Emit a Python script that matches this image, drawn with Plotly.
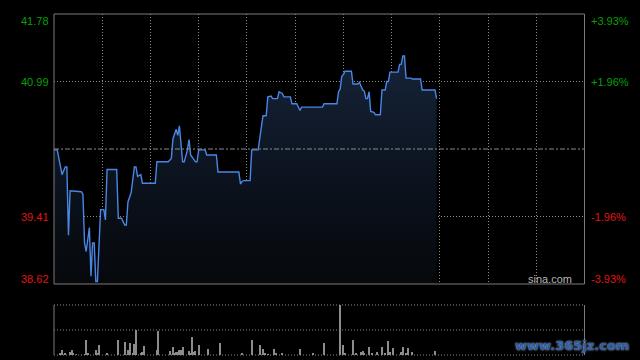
import plotly.graph_objects as go

# ---- data ----
minutes = [0, 2, 5, 6, 7, 8, 9, 10, 17, 18, 19, 20, 22, 23, 24, 25, 26, 27, 29, 31, 32, 33, 38, 39,
           40, 42, 44, 45, 46, 48, 50, 51, 52, 54, 55, 63, 64, 71, 73, 74, 76, 77, 78, 80, 81, 83,
           84, 85, 88, 89, 90, 94, 95, 101, 102, 115, 116, 117, 118, 122, 123, 127, 130, 132, 133,
           135, 136, 139, 140, 142, 143, 147, 148, 151, 153, 154, 167, 168, 176, 177, 178, 179, 180,
           181, 185, 186, 189, 190, 192, 193, 194, 195, 196, 197, 199, 200, 203, 204, 206, 207, 208,
           209, 214, 215, 216, 217, 218, 219, 222, 223, 228, 229, 237, 238]
prices = [40.19, 40.19, 39.90, 39.94, 39.99, 39.99, 39.19, 39.71, 39.70, 39.67, 39.10, 39.00, 39.28,
          38.71, 39.10, 39.10, 38.65, 38.65, 39.49, 39.49, 39.37, 39.96, 39.96, 39.96, 39.39, 39.39,
          39.31, 39.31, 39.58, 39.69, 39.99, 39.99, 39.88, 39.90, 39.80, 39.80, 40.05, 40.05, 40.09,
          40.32, 40.43, 40.36, 40.47, 40.05, 40.05, 40.19, 40.31, 40.13, 40.05, 40.05, 40.19, 40.19,
          40.13, 40.13, 39.93, 39.93, 39.79, 39.82, 39.83, 39.83, 40.19, 40.19, 40.59, 40.59, 40.81,
          40.82, 40.79, 40.79, 40.87, 40.85, 40.81, 40.81, 40.73, 40.73, 40.65, 40.69, 40.69, 40.73,
          40.73, 40.87, 40.90, 41.05, 41.07, 41.11, 41.11, 40.96, 40.96, 40.98, 40.89, 40.88, 40.79,
          40.79, 40.87, 40.64, 40.63, 40.60, 40.60, 40.89, 40.89, 40.99, 40.99, 41.10, 41.10, 41.19,
          41.19, 41.29, 41.29, 41.03, 41.03, 41.02, 41.02, 40.89, 40.89, 40.79]

vol_minutes = [4, 5, 7, 10, 11, 12, 14, 19, 20, 21, 26, 27, 28, 33, 40, 44, 46, 47, 49, 50,
               51, 54, 55, 56, 64, 65, 72, 74, 75, 76, 77, 78, 79, 80, 84, 85, 86, 87, 88, 90,
               96, 103, 117, 123, 128, 130, 131, 133, 137, 138, 142, 153, 161, 168, 178, 180, 181, 186, 188, 191,
               192, 193, 196, 198, 201, 204, 206, 208, 209, 211, 216, 217, 219, 220, 223, 237]
volumes = [4.7, 10, 4.7, 6.7, 10, 3.4, 2, 2, 30, 3.4, 10.7, 4.7, 20.8, 4.7, 30, 26.8, 10, 24.2, 4.7, 22.8,
           50.3, 4.7, 6.7, 18.8, 10, 48.3, 8.7, 16.8, 4.7, 6.7, 6.7, 10.7, 10.7, 16.8, 8.7, 4.7, 36.9, 6.7, 8.7, 20.8,
           12.8, 24.8, 3.4, 30, 20.8, 12.8, 3.4, 2, 12.8, 3.4, 4.7, 12.8, 3.4, 23.5, 100, 20.8, 3.4, 30, 3.4, 6.7,
           8.7, 4.7, 16.8, 3.4, 6.7, 16.8, 4.7, 28.9, 6.7, 14.8, 6.7, 16.8, 4.7, 14.8, 6.7, 8.7]

prev_close = 40.20
y_min, y_max = 38.62, 41.78
left_labels = ["41.78", "40.99", "39.41", "38.62"]
left_vals = [41.78, 40.99, 39.41, 38.62]
right_labels = ["+3.93%", "+1.96%", "-1.96%", "-3.93%"]
grid_prices = [40.99, 39.41]

W, H = 640, 360
X0, X1 = 54, 584.5
MAIN_TOP, MAIN_BOT = 14, 284
VOL_TOP, VOL_BOT = 305, 355


def px_x(p):
    return p / W


def px_y(p):
    return 1 - p / H


GREEN = "#05a005"
RED = "#e01414"
GRID = "#8a8a8a"
BORDER = "#7a7a7a"

fig = go.Figure()

fig.add_trace(go.Scatter(
    x=minutes, y=prices, mode="lines",
    line=dict(color="#4a86e4", width=1.4),
    fill="tozeroy",
    fillgradient=dict(type="vertical", start=38.62, stop=41.3,
                      colorscale=[[0, "#06080b"], [0.5, "#0c1420"], [1, "#162339"]]),
    hoverinfo="skip", xaxis="x", yaxis="y"))

fig.add_trace(go.Bar(
    x=vol_minutes, y=volumes, width=0.62,
    marker=dict(color="#8c8c8c", line=dict(width=0)),
    hoverinfo="skip", xaxis="x2", yaxis="y2"))

fig.update_layout(
    width=W, height=H, margin=dict(l=0, r=0, t=0, b=0),
    paper_bgcolor="#000000", plot_bgcolor="#000000",
    showlegend=False, bargap=0,
    xaxis=dict(domain=[px_x(X0), px_x(X1)], range=[0, 330], showticklabels=False,
               showline=False, zeroline=False, tick0=0, dtick=30,
               showgrid=True, gridcolor=GRID, griddash="1px,2px", gridwidth=1, fixedrange=True),
    yaxis=dict(domain=[px_y(MAIN_BOT), px_y(MAIN_TOP)], range=[y_min, y_max],
               showticklabels=False, showline=False, zeroline=False,
               tickvals=grid_prices, showgrid=True, gridcolor=GRID, griddash="1px,2px",
               gridwidth=1, fixedrange=True),
    xaxis2=dict(domain=[px_x(X0), px_x(X1)], range=[0, 330], showticklabels=False,
                showline=False, zeroline=False, showgrid=False, anchor="y2", fixedrange=True),
    yaxis2=dict(domain=[px_y(VOL_BOT), px_y(VOL_TOP)], range=[0, 100], showticklabels=False,
                showline=False, zeroline=False, showgrid=False, anchor="x2", fixedrange=True),
)

shapes = []
# main border
shapes.append(dict(type="rect", xref="paper", yref="paper",
                   x0=px_x(X0), x1=px_x(X1), y0=px_y(MAIN_BOT), y1=px_y(MAIN_TOP),
                   line=dict(color=BORDER, width=1), layer="above"))
# previous close dash-dot line
shapes.append(dict(type="line", xref="paper", yref="y", x0=px_x(X0), x1=px_x(X1),
                   y0=prev_close, y1=prev_close,
                   line=dict(color=GRID, width=1, dash="5px,2px,2px,2px"), layer="above"))
# volume panel: dotted horizontal lines, solid sides
for yy in [VOL_TOP, (VOL_TOP + VOL_BOT) / 2, VOL_BOT]:
    shapes.append(dict(type="line", xref="paper", yref="paper", x0=px_x(X0), x1=px_x(X1),
                       y0=px_y(yy), y1=px_y(yy),
                       line=dict(color=GRID, width=1, dash="1px,2px"), layer="below"))
for xx in [X0, X1]:
    shapes.append(dict(type="line", xref="paper", yref="paper", x0=px_x(xx), x1=px_x(xx),
                       y0=px_y(VOL_BOT), y1=px_y(VOL_TOP),
                       line=dict(color=BORDER, width=1), layer="above"))
fig.update_layout(shapes=shapes)

ann = []
label_y = [20.5, 82, 217, 278.5]
for lab, v, ly in zip(left_labels, left_vals, label_y):
    col = GREEN if v > prev_close else RED
    ann.append(dict(text=lab, xref="paper", yref="paper", x=px_x(51), y=px_y(ly),
                    xanchor="right", yanchor="middle", showarrow=False,
                    font=dict(family="Liberation Sans, Arial", size=11, color=col)))
for lab, v, ly in zip(right_labels, left_vals, label_y):
    col = GREEN if v > prev_close else RED
    ann.append(dict(text=lab, xref="paper", yref="paper", x=px_x(589), y=px_y(ly),
                    xanchor="left", yanchor="middle", showarrow=False,
                    font=dict(family="Liberation Sans, Arial", size=11, color=col)))
ann.append(dict(text="sina.com", xref="paper", yref="paper", x=px_x(574), y=px_y(279),
                xanchor="right", yanchor="middle", showarrow=False,
                font=dict(family="Liberation Sans, Arial", size=11, color="#b4b4b4")))
ann.append(dict(text="<b>www.365jz.com</b>", xref="paper", yref="paper", x=px_x(631), y=px_y(345),
                xanchor="right", yanchor="middle", showarrow=False,
                font=dict(family="DejaVu Sans, Verdana", size=13, color="#2a5ea8",
                          shadow="0px 0px 2px #c8d0dc")))
fig.update_layout(annotations=ann)

fig.write_html("out.html")
